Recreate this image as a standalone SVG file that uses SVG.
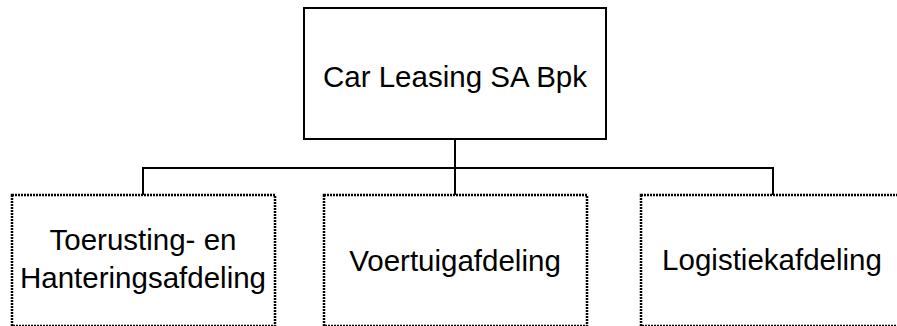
<svg xmlns="http://www.w3.org/2000/svg" width="897" height="326" viewBox="0 0 897 326">
<style>
.solid{fill:#fff;stroke:#000;stroke-width:2}
.dotted{fill:#fff;stroke:#000;stroke-width:2.5;stroke-dasharray:2 1}
.lbl{font-family:"Liberation Sans",Arial,sans-serif;font-size:29.5px;fill:#000;text-anchor:middle}
.conn{fill:none;stroke:#000;stroke-width:2}
</style>
<rect width="897" height="326" fill="#fff"/>
<g id="connectors">
<line class="conn" x1="455" y1="139" x2="455" y2="195"/>
<polyline class="conn" points="143,195 143,168 773,168 773,195"/>
</g>
<g id="root">
<rect class="solid" x="304" y="8" width="302" height="131"/>
<text class="lbl" x="455" y="87">Car Leasing SA Bpk</text>
</g>
<g id="toerusting">
<rect class="dotted" x="12" y="195" width="263" height="131"/>
<text class="lbl" x="143" y="250">Toerusting- en</text>
<text class="lbl" x="143" y="288">Hanteringsafdeling</text>
</g>
<g id="voertuig">
<rect class="dotted" x="324" y="195" width="263" height="131"/>
<text class="lbl" x="455" y="271">Voertuigafdeling</text>
</g>
<g id="logistiek">
<rect class="dotted" x="641" y="195" width="263" height="131"/>
<text class="lbl" x="772" y="270">Logistiekafdeling</text>
</g>
</svg>
